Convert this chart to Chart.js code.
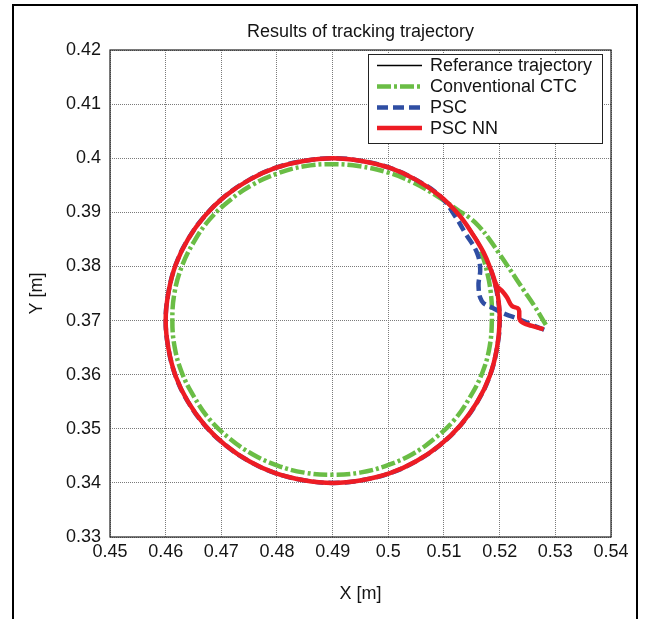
<!DOCTYPE html>
<html>
<head>
<meta charset="utf-8">
<script src="https://cdn.jsdelivr.net/npm/chart.js@4/dist/chart.umd.min.js"></script>
<style>
  html, body { margin: 0; padding: 0; background: #fff; }
  #wrap { width: 645px; height: 619px; }
</style>
</head>
<body>
<div id="wrap"><canvas id="c" width="645" height="619"></canvas></div>
<script>
// ---------- data ----------
const seriesNames = ['Referance trajectory', 'Conventional CTC', 'PSC', 'PSC NN'];

const xTicks = [0.45, 0.46, 0.47, 0.48, 0.49, 0.50, 0.51, 0.52, 0.53, 0.54];
const xTickLabels = ['0.45', '0.46', '0.47', '0.48', '0.49', '0.5', '0.51', '0.52', '0.53', '0.54'];
const yTicks = [0.33, 0.34, 0.35, 0.36, 0.37, 0.38, 0.39, 0.40, 0.41, 0.42];
const yTickLabels = ['0.33', '0.34', '0.35', '0.36', '0.37', '0.38', '0.39', '0.4', '0.41', '0.42'];

// Reference trajectory
const refX = [0.5200,0.5195,0.5182,0.5160,0.5130,0.5093,0.5050,0.5003,0.4952,0.4900,0.4848,0.4797,0.4750,0.4707,0.4670,0.4640,0.4618,0.4605,0.4600,0.4605,0.4618,0.4640,0.4670,0.4707,0.4750,0.4797,0.4848,0.4900,0.4952,0.5003,0.5050,0.5093,0.5130,0.5160,0.5182,0.5195,0.5200];
const refY = [0.3700,0.3752,0.3803,0.3850,0.3893,0.3930,0.3960,0.3982,0.3995,0.4000,0.3995,0.3982,0.3960,0.3930,0.3893,0.3850,0.3803,0.3752,0.3700,0.3648,0.3597,0.3550,0.3507,0.3470,0.3440,0.3418,0.3405,0.3400,0.3405,0.3418,0.3440,0.3470,0.3507,0.3550,0.3597,0.3648,0.3700];

// Conventional CTC
const ctcX = [0.5283,0.5263,0.5242,0.5220,0.5199,0.5181,0.5163,0.5146,0.5128,
  0.5089,0.5045,0.4998,0.4949,0.4899,0.4849,0.4801,0.4756,0.4715,0.4679,0.4651,0.4629,0.4616,0.4612,
  0.4616,0.4629,0.4651,0.4679,0.4715,0.4756,0.4801,0.4849,0.4899,0.4949,0.4997,0.5043,0.5083,0.5119,
  0.5147,0.5169,0.5182,0.5186,0.5184,0.5175,0.5166];
const ctcY = [0.3692,0.3726,0.3758,0.3792,0.3824,0.3851,0.3874,0.3890,0.3902,
  0.3929,0.3955,0.3974,0.3985,0.3989,0.3985,0.3972,0.3951,0.3922,0.3887,0.3846,0.3800,0.3752,0.3702,
  0.3652,0.3604,0.3559,0.3517,0.3482,0.3453,0.3432,0.3419,0.3415,0.3419,0.3432,0.3453,0.3482,0.3517,
  0.3559,0.3604,0.3652,0.3702,0.3752,0.3800,0.3830];

// PSC
const pscX = [0.5280,0.5256,0.5234,0.5210,0.5186,0.5168,0.5162,0.5165,0.5159,0.5138,0.5120,
  0.5093,0.5050,0.5003,0.4952,0.4900,0.4848,0.4797,0.4750,0.4707,0.4670,0.4640,0.4618,0.4605,0.4600,
  0.4605,0.4618,0.4640,0.4670,0.4707,0.4750,0.4797,0.4848,0.4900,0.4952,0.5003,0.5050,0.5093,0.5130,
  0.5160,0.5182,0.5195,0.5200,0.5195,0.5182];
const pscY = [0.3683,0.3693,0.3703,0.3712,0.3724,0.3736,0.3764,0.3795,0.3826,0.3862,0.3893,
  0.3930,0.3960,0.3982,0.3995,0.4000,0.3995,0.3982,0.3960,0.3930,0.3893,0.3850,0.3803,0.3752,0.3700,
  0.3648,0.3597,0.3550,0.3507,0.3470,0.3440,0.3418,0.3405,0.3400,0.3405,0.3418,0.3440,0.3470,0.3507,
  0.3550,0.3597,0.3648,0.3700,0.3752,0.3803];

// PSC NN
const nnX = [0.5279,0.5258,0.5237,0.5234,0.5222,0.5213,0.5204,0.5195,0.5186,0.5171,0.5150,0.5127,
  0.5093,0.5050,0.5003,0.4952,0.4900,0.4848,0.4797,0.4750,0.4707,0.4670,0.4640,0.4618,0.4605,0.4600,
  0.4605,0.4618,0.4640,0.4670,0.4707,0.4750,0.4797,0.4848,0.4900,0.4952,0.5003,0.5050,0.5093,0.5130,
  0.5160,0.5182,0.5195,0.5200,0.5197,0.5190];
const nnY = [0.3684,0.3690,0.3700,0.3721,0.3727,0.3743,0.3755,0.3764,0.3789,0.3826,0.3862,0.3895,
  0.3930,0.3960,0.3982,0.3995,0.4000,0.3995,0.3982,0.3960,0.3930,0.3893,0.3850,0.3803,0.3752,0.3700,
  0.3648,0.3597,0.3550,0.3507,0.3470,0.3440,0.3418,0.3405,0.3400,0.3405,0.3418,0.3440,0.3470,0.3507,
  0.3550,0.3597,0.3648,0.3700,0.3745,0.3775];

// ---------- chart ----------
const pts = (xs, ys) => xs.map((x, i) => ({ x: x, y: ys[i] }));
const FONT = 'Liberation Sans, Arial, Helvetica, sans-serif';
const FS = 18;
const TXT = '#141414';

const frameAndLegend = {
  id: 'frameAndLegend',
  beforeDraw(chart) {
    const ctx = chart.ctx;
    ctx.save();
    ctx.fillStyle = '#fff';
    ctx.fillRect(0, 0, chart.width, chart.height);
    ctx.restore();
  },
  afterDraw(chart) {
    const ctx = chart.ctx;
    const a = chart.chartArea;
    ctx.save();
    // axes box
    ctx.strokeStyle = '#222';
    ctx.lineWidth = 1.2;
    ctx.setLineDash([]);
    ctx.strokeRect(a.left, a.top, a.right - a.left, a.bottom - a.top);
    // outer figure border
    ctx.strokeStyle = '#000';
    ctx.lineWidth = 2;
    ctx.beginPath();
    ctx.moveTo(13, chart.height + 5);
    ctx.lineTo(13, 5);
    ctx.lineTo(637, 5);
    ctx.lineTo(637, chart.height + 5);
    ctx.stroke();
    // legend
    const lx = 368, ly = 54, lw = 234, lh = 89;
    ctx.fillStyle = '#fff';
    ctx.fillRect(lx, ly, lw, lh);
    ctx.strokeStyle = '#222';
    ctx.lineWidth = 1;
    ctx.strokeRect(lx + 0.5, ly + 0.5, lw, lh);
    const rows = [65.5, 86.5, 107.5, 128];
    ctx.font = FS + 'px ' + FONT;
    ctx.textBaseline = 'middle';
    ctx.textAlign = 'left';
    chart.data.datasets.forEach((ds, i) => {
      const y = rows[i];
      ctx.strokeStyle = ds.borderColor;
      ctx.lineWidth = ds.borderWidth;
      ctx.setLineDash(ds.borderDash || []);
      ctx.beginPath();
      ctx.moveTo(377, y);
      ctx.lineTo(422, y);
      ctx.stroke();
      ctx.setLineDash([]);
      ctx.fillStyle = TXT;
      ctx.fillText(ds.label, 430, y + 1);
    });
    ctx.restore();
  }
};

new Chart(document.getElementById('c'), {
  type: 'scatter',
  data: {
    datasets: [
      { label: seriesNames[0], data: pts(refX, refY), showLine: true, borderColor: '#000000', borderWidth: 1.5, pointRadius: 0, tension: 0.4, order: 4 },
      { label: seriesNames[1], data: pts(ctcX, ctcY), showLine: true, borderColor: '#6abd45', borderWidth: 4.5, borderDash: [14, 3, 3, 3], pointRadius: 0, tension: 0.4, order: 3 },
      { label: seriesNames[2], data: pts(pscX, pscY), showLine: true, borderColor: '#2f4ea3', borderWidth: 4.5, borderDash: [11, 5], pointRadius: 0, tension: 0.4, order: 2 },
      { label: seriesNames[3], data: pts(nnX, nnY), showLine: true, borderColor: '#ed1c24', borderWidth: 4.5, pointRadius: 0, tension: 0.4, order: 1 }
    ]
  },
  options: {
    responsive: false,
    animation: false,
    events: [],
    layout: { padding: { left: 0, right: 34, top: 0, bottom: 0 } },
    plugins: {
      legend: { display: false },
      tooltip: { enabled: false },
      title: {
        display: true, text: 'Results of tracking trajectory', fullSize: false,
        color: TXT, font: { family: FONT, size: FS, weight: 'normal' },
        padding: { top: 21, bottom: 7.4 }
      }
    },
    scales: {
      x: {
        type: 'linear', min: 0.45, max: 0.54,
        afterBuildTicks: s => { s.ticks = xTicks.map(v => ({ value: v })); },
        afterFit: s => { s.height = 82; },
        ticks: { autoSkip: false, maxRotation: 0, padding: 4, color: TXT, font: { family: FONT, size: FS },
          callback: (v, i) => xTickLabels[i] },
        grid: { color: '#7a7a7a', lineWidth: 1, drawTicks: false },
        border: { display: false, dash: [1, 1] },
        title: { display: true, text: 'X [m]', color: TXT, font: { family: FONT, size: FS }, padding: { top: 0, bottom: 14 } }
      },
      y: {
        type: 'linear', min: 0.33, max: 0.42,
        afterBuildTicks: s => { s.ticks = yTicks.map(v => ({ value: v })); },
        afterFit: s => { s.width = 110; },
        ticks: { autoSkip: false, padding: 9, color: TXT, font: { family: FONT, size: FS },
          callback: (v, i) => yTickLabels[i] },
        grid: { color: '#7a7a7a', lineWidth: 1, drawTicks: false },
        border: { display: false, dash: [1, 1] },
        title: { display: true, text: 'Y [m]', color: TXT, font: { family: FONT, size: FS }, padding: { top: 26, bottom: 0 } }
      }
    }
  },
  plugins: [frameAndLegend]
});
</script>
</body>
</html>
